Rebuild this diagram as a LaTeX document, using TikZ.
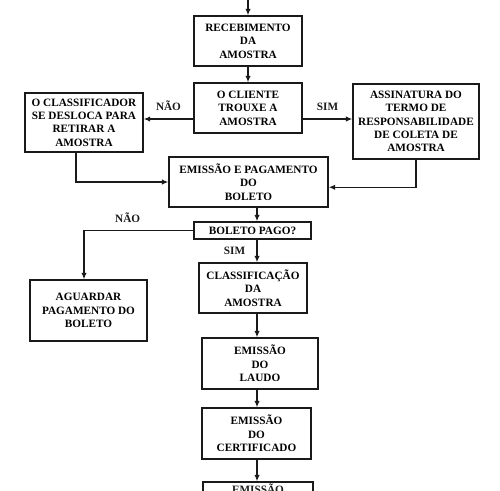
\documentclass[tikz,border=0pt]{standalone}
\usepackage{fontspec}
\setmainfont{Liberation Serif}
\usetikzlibrary{arrows.meta, positioning}
\definecolor{flowInk}{HTML}{1A1A1A}
\tikzset{
  arrowK/.style={-{Latex[length=1.3mm,width=1.1mm]}, draw=flowInk, line width=0.8pt},
  lineK/.style={draw=flowInk, line width=0.8pt},
  boxW/.style={rectangle, draw=flowInk, fill=white, line width=0.8pt,
               align=center, font=\bfseries\fontsize{6.4}{7.6}\selectfont,
               inner sep=2pt},
  lblK/.style={font=\bfseries\fontsize{6.4}{7.6}\selectfont, text=flowInk},
}
\begin{document}
\begin{tikzpicture}[x=0.02cm, y=-0.02cm]
        \useasboundingbox (0,0) rectangle (500,490);
        \clip (0,0) rectangle (500,490);
        % Caixas
        \node[boxW, minimum width=2.16cm, minimum height=1.0cm] (receb) at (248,41)
          {RECEBIMENTO\\DA\\AMOSTRA};
        \node[boxW, minimum width=2.16cm, minimum height=1.0cm] (cliente) at (248,108)
          {O CLIENTE\\TROUXE A\\AMOSTRA};
        \node[boxW, minimum width=2.36cm, minimum height=1.18cm] (desloca) at (84,122.5)
          {O CLASSIFICADOR\\SE DESLOCA PARA\\RETIRAR A\\AMOSTRA};
        \node[boxW, minimum width=2.52cm, minimum height=1.5cm] (termo) at (416,121.5)
          {ASSINATURA DO\\TERMO DE\\RESPONSABILIDADE\\DE COLETA DE\\AMOSTRA};
        \node[boxW, minimum width=3.18cm, minimum height=1.0cm] (boleto) at (248.5,182)
          {EMISSÃO E PAGAMENTO\\DO\\BOLETO};
        \node[boxW, minimum width=2.34cm, minimum height=0.34cm, inner sep=0pt] (pago) at (252.5,230.5)
          {BOLETO PAGO?};
        \node[boxW, minimum width=2.34cm, minimum height=1.22cm] (aguarda) at (88.5,310.5)
          {AGUARDAR\\PAGAMENTO DO\\BOLETO};
        \node[boxW, minimum width=2.16cm, minimum height=1.0cm] (classif) at (253,288)
          {CLASSIFICAÇÃO\\DA\\AMOSTRA};
        \node[boxW, minimum width=2.32cm, minimum height=1.02cm] (laudo) at (260,363.5)
          {EMISSÃO\\DO\\LAUDO};
        \node[boxW, minimum width=2.18cm, minimum height=1.02cm] (certif) at (256.5,433.5)
          {EMISSÃO\\DO\\CERTIFICADO};
        \node[boxW, minimum width=2.2cm, minimum height=1.0cm] (final) at (258,507) {};
        \node[lblK, inner sep=0.5pt, below=1pt] (finaltxt) at (final.north) {EMISSÃO};
        % Pontos auxiliares
        \coordinate (topo) at (248,0);
        \coordinate (yres) at (0,119);
        \coordinate (xesq) at (76,0);
        \coordinate (xdir) at (416,0);
        \coordinate (xagu) at (84,0);
        \coordinate (xcol) at (257,0);
        % Conexoes
        \draw[arrowK] (topo) -- (receb.north);
        \draw[arrowK] (receb.south) -- (cliente.north);
        \draw[arrowK] (cliente.west |- yres) -- (desloca.east |- yres)
          node[lblK, midway, above=1pt] {NÃO};
        \draw[arrowK] (cliente.east |- yres) -- (termo.west |- yres)
          node[lblK, midway, above=1pt] {SIM};
        \draw[arrowK] (desloca.south -| xesq) |- (boleto.west);
        \draw[arrowK] (termo.south -| xdir) |- ([yshift=-3pt]boleto.east);
        \draw[arrowK] (boleto.south -| xcol) -- (pago.north -| xcol);
        \draw[arrowK] (pago.west) -| (aguarda.north -| xagu)
          node[lblK, pos=0.3, above=1pt] {NÃO};
        \draw[arrowK] (pago.south -| xcol) -- (classif.north -| xcol)
          node[lblK, midway, left=3pt] {SIM};
        \draw[arrowK] (classif.south -| xcol) -- (laudo.north -| xcol);
        \draw[arrowK] (laudo.south -| xcol) -- (certif.north -| xcol);
        \draw[arrowK] (certif.south -| xcol) -- (final.north -| xcol);
      \end{tikzpicture}
\end{document}
